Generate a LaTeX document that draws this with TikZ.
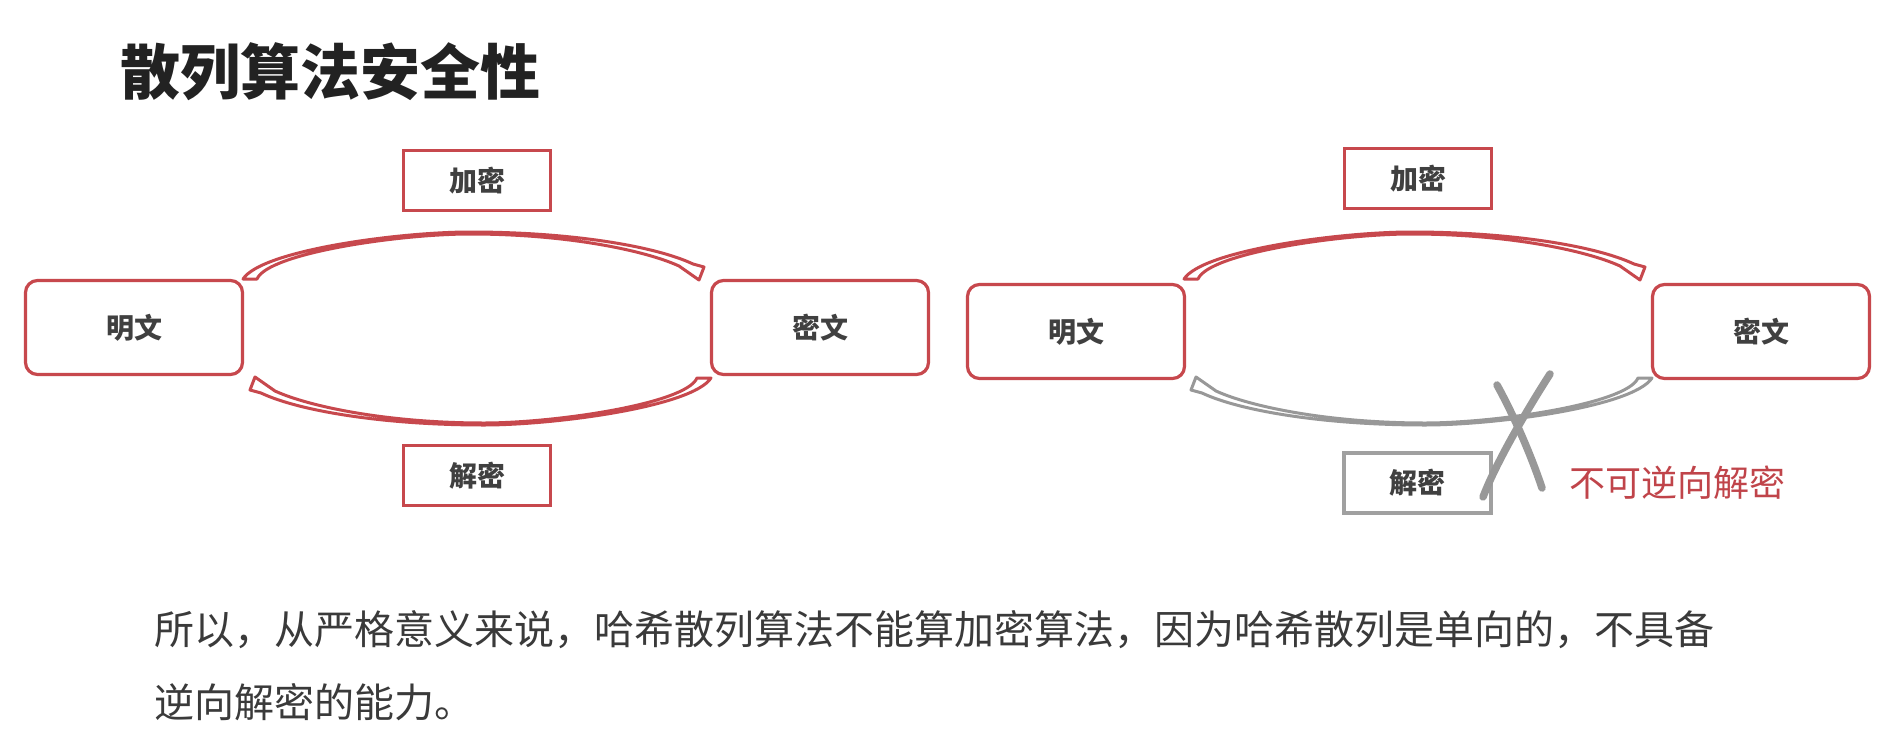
\documentclass[tikz,border=0pt]{standalone}
\usepackage{fontspec}
\newfontfamily\cjk{Noto Sans CJK SC}
\definecolor{rd}{RGB}{199,72,77}
\definecolor{rdtext}{RGB}{192,68,74}
\definecolor{gyline}{RGB}{152,152,152}
\definecolor{gybox}{RGB}{160,160,160}
\definecolor{boxtext}{RGB}{64,64,64}
\definecolor{bodytext}{RGB}{58,58,58}
\definecolor{titletext}{RGB}{34,34,34}
\tikzset{
  bigbox/.style={draw=rd, line width=3.2pt, rounded corners=12pt, fill=white,
    minimum width=217pt, minimum height=94pt, inner sep=0pt,
    font=\cjk\bfseries\fontsize{28}{30}\selectfont, text=boxtext},
  smallbox/.style={draw=rd, line width=3.2pt, fill=white,
    minimum width=147pt, minimum height=60pt, inner sep=0pt,
    font=\cjk\bfseries\fontsize{28}{30}\selectfont, text=boxtext},
  arrowshape/.style={draw=rd, line width=3pt, fill=white, line join=round},
  crossline/.style={draw=gyline, line width=7.5pt, line cap=round},
  bodyline/.style={anchor=west, inner sep=0pt, font=\cjk\fontsize{40}{44}\selectfont, text=bodytext}
}
\newcommand{\curvedarrowshape}[1]{%
  \path[arrowshape,#1] (243,279) .. controls (262,250) and (400,232) .. (470,232)
    .. controls (570,232) and (655,246) .. (693,264)
    -- (704,267) -- (699,280) -- (679,266)
    .. controls (644,250) and (565,234) .. (470,234)
    .. controls (400,234) and (268,253) .. (257,279) -- cycle;}
\begin{document}
\begin{tikzpicture}[x=1pt,y=-1pt]
\useasboundingbox[fill=white] (0,0) rectangle (1886,736);

% title
\node[anchor=west, inner sep=0pt, font=\cjk\bfseries\fontsize{60}{66}\selectfont, text=titletext] (title) at (120,72) {散列算法安全性};

% ---------- left diagram ----------
\curvedarrowshape{}
\begin{scope}[rotate around={180:(477,328.5)}]
  \curvedarrowshape{}
\end{scope}
\node[bigbox] (pL) at (134,327.5) {明文};
\node[bigbox] (cL) at (820,327.5) {密文};
\node[smallbox] (eL) at (477,180.5) {加密};
\node[smallbox] (dL) at (477,475.5) {解密};

% ---------- right diagram ----------
\begin{scope}[shift={(941,0)}]
  \curvedarrowshape{}
\end{scope}
\begin{scope}[shift={(941,0)}, rotate around={180:(477,328.5)}]
  \curvedarrowshape{draw=gyline}
\end{scope}
\node[bigbox] (pR) at (1076,331.5) {明文};
\node[bigbox] (cR) at (1761,331.5) {密文};
\node[smallbox] (eR) at (1418,178.5) {加密};
\node[smallbox, draw=gybox] (dR) at (1417.5,483) {解密};

% cross
\coordinate (x1a) at (1497,385);
\coordinate (x1b) at (1542,488);
\coordinate (x2a) at (1550,374);
\coordinate (x2b) at (1483,497);
\draw[crossline] (x1a) .. controls (1512,412) and (1530,452) .. (x1b);
\draw[crossline] (x2a) .. controls (1532,402) and (1498,458) .. (x2b);

\node[inner sep=0pt, font=\cjk\fontsize{36}{40}\selectfont, text=rdtext] (note) at (1677.5,483) {不可逆向解密};

% body text
\node[bodyline] (line1) at (154,630) {所以，从严格意义来说，哈希散列算法不能算加密算法，因为哈希散列是单向的，不具备};
\node[bodyline] (line2) at (154,702) {逆向解密的能力。};
\end{tikzpicture}
\end{document}
